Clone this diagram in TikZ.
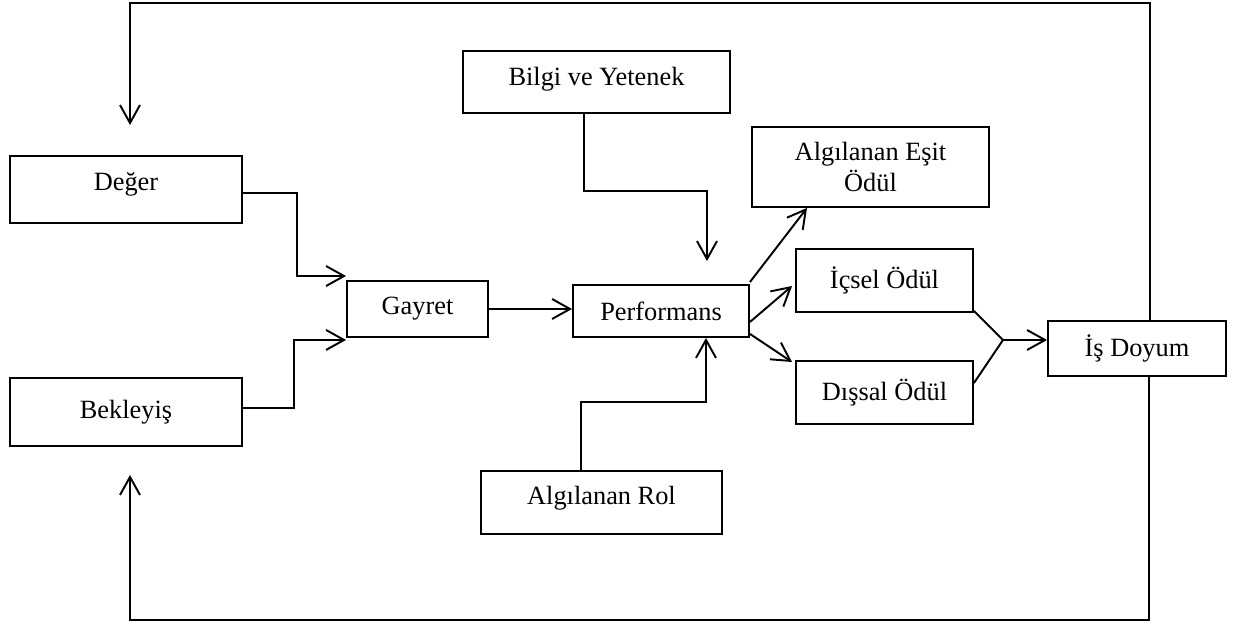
\documentclass[tikz,border=0pt]{standalone}
\usepackage{fontspec}
\setmainfont{Liberation Serif}
\usetikzlibrary{arrows.meta}
\tikzset{
  box/.style={draw, line width=1.1pt, inner sep=0pt, align=center,
    font=\fontsize{15pt}{18pt}\selectfont},
  arr/.style={line width=1.1pt, -{Straight Barb[length=0.36cm, width=0.4cm, line width=1.1pt]}},
  ln/.style={line width=1.1pt}
}
\begin{document}
\begin{tikzpicture}[x=0.02cm, y=-0.02cm]
\useasboundingbox (0,0) rectangle (1242,624);
% boxes
\node[box, minimum width=4.64cm, minimum height=1.34cm, text depth=9pt] (deger) at (126,189.5) {Değer};
\node[box, minimum width=4.64cm, minimum height=1.36cm] (bekleyis) at (126,412) {Bekleyiş};
\node[box, minimum width=2.82cm, minimum height=1.12cm] (gayret) at (417.5,309) {Gayret};
\node[box, minimum width=3.52cm, minimum height=1.04cm] (perf) at (661,311) {Performans};
\node[box, minimum width=5.34cm, minimum height=1.24cm, text depth=6.7pt] (bilgi) at (596.5,82) {Bilgi ve Yetenek};
\node[box, minimum width=4.82cm, minimum height=1.26cm, text depth=7.8pt] (rol) at (601.5,502.5) {Algılanan Rol};
\node[box, minimum width=4.74cm, minimum height=1.60cm] (esit) at (870.5,167) {Algılanan Eşit\\Ödül};
\node[box, minimum width=3.54cm, minimum height=1.26cm] (icsel) at (884.5,280.5) {İçsel Ödül};
\node[box, minimum width=3.54cm, minimum height=1.26cm] (dissal) at (884.5,392.5) {Dışsal Ödül};
\node[box, minimum width=3.56cm, minimum height=1.10cm] (doyum) at (1137,348.5) {İş Doyum};
% connectors
\draw[arr] ([yshift=-0.07cm]deger.east) -- ++(54,0) |- ([yshift=0.08cm]gayret.north west);
\draw[arr] ([yshift=0.08cm]bekleyis.east) -- ++(51,0) |- ([yshift=-0.04cm]gayret.south west);
\draw[arr] (gayret.east) -- (gayret.east -| perf.west);
\draw[arr] ([xshift=-0.25cm]bilgi.south) -- ++(0,77) -| ([xshift=0.92cm,yshift=0.46cm]perf.north);
\draw[arr] ([xshift=-0.41cm]rol.north) -- ++(0,-68) -| ([xshift=0.9cm]perf.south);
\draw[arr] ([yshift=0.04cm]perf.north east) -- ([xshift=-1.27cm]esit.south);
\draw[arr] ([yshift=-0.22cm]perf.east) -- ([xshift=-0.06cm,yshift=-0.11cm]icsel.west);
\draw[arr] ([yshift=0.08cm]perf.south east) -- ([xshift=-0.06cm,yshift=-0.04cm]dissal.north west);
\coordinate (j) at (1003,340);
\draw[ln] ([yshift=0.04cm]icsel.south east) -- (j) -- ([yshift=0.19cm]dissal.east);
\draw[arr] (j) -- (j -| doyum.west);
% feedback loop
\coordinate (tl) at (130,3);
\coordinate (dtip) at (130,125);
\coordinate (bl) at (130,620);
\coordinate (utip) at (130,475);
\draw[arr] ([xshift=0.26cm]doyum.north) |- (tl) -- (dtip);
\draw[arr] ([xshift=0.24cm]doyum.south) |- (bl) -- (utip);
\end{tikzpicture}
\end{document}
